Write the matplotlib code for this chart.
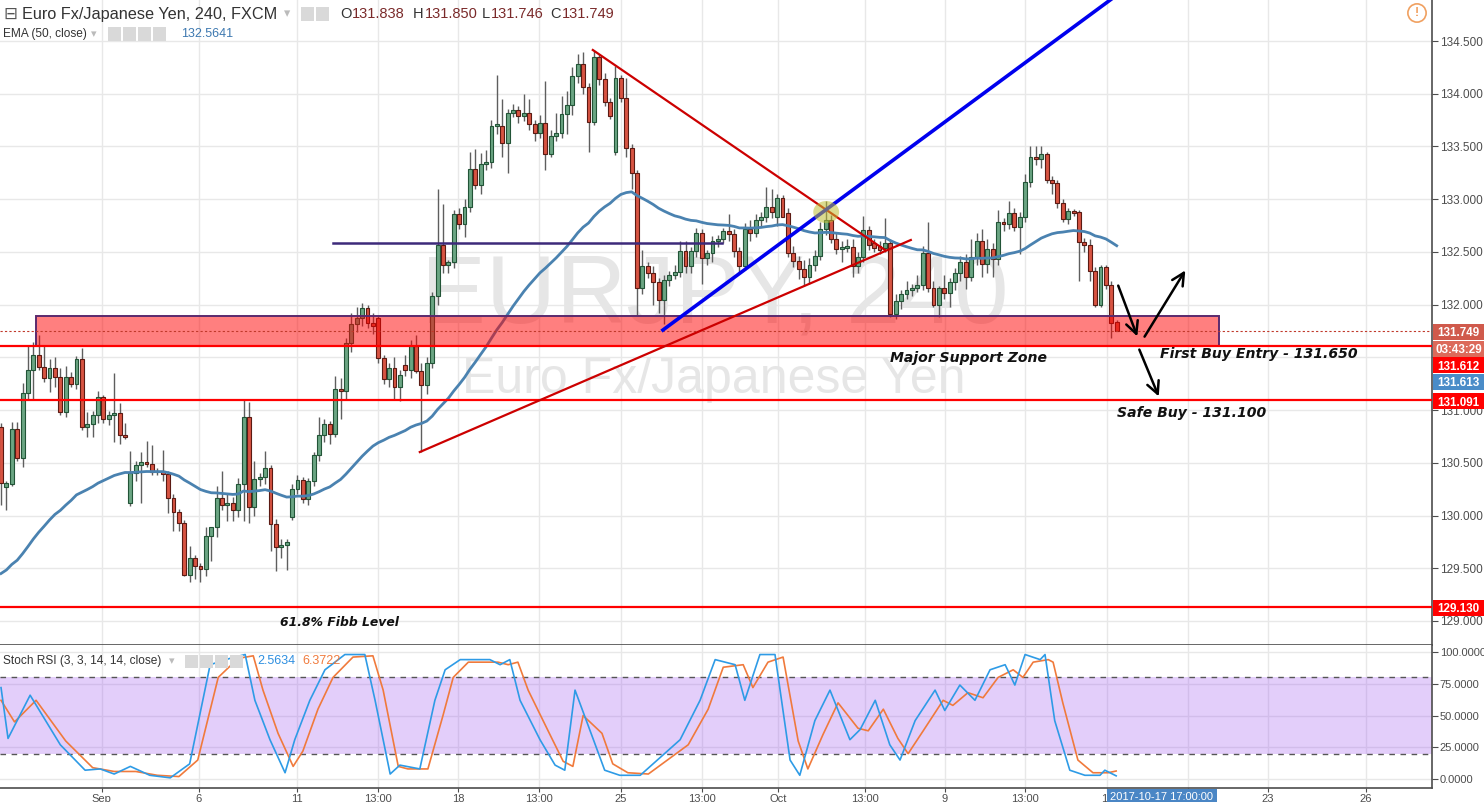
import numpy as np
import matplotlib
matplotlib.use("Agg")
import matplotlib.pyplot as plt
from matplotlib.patches import Rectangle, Ellipse

plt.rcParams['font.family'] = ['Liberation Sans', 'DejaVu Sans']

# ---------------- data ----------------
opens = [130.84,130.27,130.30,130.82,130.55,131.16,131.38,131.52,131.41,131.30,
         131.40,131.31,130.98,131.31,131.25,131.48,130.84,130.87,130.95,131.12,
         130.92,130.95,130.97,130.76,130.12,130.40,130.48,130.51,130.49,130.41,
         130.42,130.39,130.17,130.03,129.93,129.44,129.60,129.52,129.49,129.81,
         129.89,130.17,130.10,130.12,130.05,130.30,130.93,130.08,130.35,130.37,
         130.45,129.92,129.70,129.72,129.99,130.25,130.34,130.16,130.33,130.57,
         130.76,130.87,130.77,131.20,131.18,131.64,131.82,131.87,131.97,131.83,
         131.87,131.49,131.29,131.40,131.22,131.43,131.38,131.61,131.37,131.24,
         131.45,132.08,132.57,132.38,132.40,132.86,132.76,132.93,133.29,133.13,
         133.33,133.35,133.69,133.69,133.53,133.82,133.85,133.79,133.82,133.71,
         133.63,133.72,133.43,133.60,133.63,133.81,133.89,134.17,134.28,134.06,
         133.73,134.35,134.14,133.92,133.45,134.15,133.96,133.49,133.25,132.16,
         132.37,132.30,132.21,132.04,132.23,132.28,132.31,132.51,132.37,132.51,
         132.68,132.44,132.49,132.60,132.62,132.70,132.67,132.51,132.37,132.72,
         132.68,132.80,132.83,132.93,132.83,133.01,132.87,132.49,132.41,132.34,
         132.26,132.38,132.46,132.72,132.80,132.62,132.53,132.54,132.55,132.37,
         132.45,132.71,132.58,132.56,132.54,132.58,131.91,132.03,132.10,132.14,
         132.16,132.19,132.49,132.16,132.00,132.16,132.11,132.21,132.30,132.40,
         132.26,132.45,132.60,132.39,132.53,132.43,132.78,132.76,132.87,132.74,
         132.83,133.16,133.40,133.38,133.43,133.18,133.15,132.96,132.81,132.89,
         132.88,132.59,132.57,132.32,132.00,132.36,132.19,131.838]
highs = [130.88,130.33,130.89,130.89,131.26,131.62,131.65,131.71,131.62,131.48,
         131.50,131.40,131.42,131.36,131.51,131.59,130.98,130.99,131.18,131.14,
         130.99,131.35,131.07,130.88,130.61,130.52,130.60,130.71,130.67,130.45,
         130.62,130.42,130.20,130.06,129.96,129.71,129.63,129.55,129.89,129.89,
         130.28,130.42,130.20,130.18,130.36,131.10,131.08,130.52,130.40,130.61,
         130.48,129.97,129.78,129.78,130.30,130.38,130.37,130.36,130.60,130.93,
         130.92,130.90,131.32,131.30,131.68,131.92,131.98,132.02,132.00,131.92,
         131.90,131.52,131.45,131.50,131.38,131.52,131.66,131.71,131.45,131.50,
         132.12,133.10,132.95,132.42,132.90,132.92,133.00,133.45,133.48,133.44,
         133.47,133.75,134.18,133.95,133.86,133.90,133.88,134.00,133.95,133.75,
         133.80,134.12,133.66,133.82,133.98,134.03,134.25,134.38,134.40,134.10,
         134.41,134.38,134.20,133.96,134.26,134.18,134.15,133.52,133.28,132.52,
         132.40,132.37,132.25,132.28,132.32,132.38,132.60,132.60,132.55,132.73,
         132.72,132.52,132.65,132.66,132.73,132.86,132.72,132.55,132.77,132.80,
         132.86,132.88,133.12,133.10,133.05,133.04,132.92,132.56,132.46,132.42,
         132.44,132.52,132.78,132.98,132.85,132.68,132.60,132.62,132.62,132.50,
         132.84,132.75,132.62,132.60,132.82,132.62,132.10,132.14,132.22,132.20,
         132.28,132.56,132.78,132.22,132.18,132.28,132.25,132.35,132.46,132.48,
         132.62,132.68,132.72,132.62,132.58,132.90,132.82,132.98,132.92,132.88,
         133.24,133.50,133.50,133.50,133.45,133.22,133.18,133.00,132.92,132.91,
         132.90,132.63,132.62,132.36,132.38,132.38,132.22,131.850]
lows = [130.10,130.05,130.28,130.52,130.46,131.10,131.10,131.38,131.27,131.17,
        131.22,130.95,130.93,131.22,131.20,130.81,130.74,130.74,130.88,130.88,
        130.86,130.70,130.68,130.73,130.09,130.33,130.12,130.46,130.38,130.38,
        130.33,130.02,129.85,129.85,129.43,129.37,129.40,129.37,129.43,129.57,
        129.80,130.05,129.95,129.95,129.99,129.95,129.93,130.00,130.28,130.30,
        129.66,129.47,129.60,129.48,129.96,130.20,130.12,130.10,130.28,130.52,
        130.70,130.68,130.74,130.92,131.10,131.55,131.74,131.80,131.78,131.72,
        131.45,131.25,131.22,131.10,131.09,131.32,131.30,131.35,130.60,131.15,
        131.40,132.00,132.30,132.30,132.35,132.72,132.64,132.88,133.10,133.05,
        133.28,133.30,133.62,133.40,133.25,133.78,133.72,133.74,133.66,133.55,
        133.58,133.28,133.40,133.55,133.58,133.62,133.80,134.10,134.00,133.45,
        133.70,134.08,133.88,133.76,133.42,133.92,133.40,133.10,131.90,132.10,
        132.25,132.00,131.92,131.82,132.18,132.24,132.26,132.30,132.30,132.45,
        132.20,132.38,132.40,132.55,132.58,132.60,132.45,132.30,132.33,132.60,
        132.64,132.74,132.78,132.82,132.75,132.83,132.45,132.36,132.24,132.18,
        132.20,132.32,132.42,132.66,132.58,132.48,132.40,132.50,132.26,132.30,
        132.40,132.52,132.50,132.48,132.50,131.88,131.86,131.96,132.05,132.08,
        132.12,132.14,132.12,131.98,131.88,132.05,131.98,132.14,132.22,132.15,
        132.22,132.38,132.26,132.30,132.26,132.38,132.70,132.72,132.70,132.48,
        132.78,133.12,133.32,133.30,133.15,133.05,132.92,132.78,132.76,132.84,
        132.22,132.50,132.22,131.98,131.98,132.15,131.68,131.746]
closes = [130.31,130.31,130.82,130.55,131.16,131.38,131.52,131.41,131.30,131.40,
          131.31,130.98,131.31,131.25,131.48,130.84,130.87,130.95,131.12,130.92,
          130.95,130.97,130.76,130.74,130.40,130.48,130.51,130.49,130.41,130.42,
          130.39,130.17,130.03,129.93,129.44,129.60,129.52,129.49,129.81,129.89,
          130.17,130.10,130.12,130.05,130.30,130.93,130.08,130.35,130.37,130.45,
          129.92,129.70,129.72,129.75,130.25,130.34,130.16,130.33,130.57,130.76,
          130.87,130.77,131.20,131.18,131.64,131.82,131.87,131.97,131.83,131.80,
          131.49,131.29,131.40,131.22,131.33,131.38,131.61,131.37,131.24,131.45,
          132.08,132.57,132.38,132.40,132.86,132.76,132.93,133.29,133.13,133.33,
          133.35,133.69,133.71,133.53,133.82,133.85,133.79,133.82,133.71,133.63,
          133.72,133.43,133.60,133.63,133.81,133.89,134.17,134.28,134.06,133.73,
          134.35,134.14,133.92,133.79,134.15,133.96,133.49,133.25,132.16,132.37,
          132.30,132.21,132.04,132.23,132.28,132.31,132.51,132.37,132.51,132.68,
          132.44,132.49,132.60,132.62,132.70,132.67,132.51,132.37,132.72,132.68,
          132.80,132.83,132.93,132.88,133.01,132.83,132.49,132.41,132.34,132.26,
          132.38,132.46,132.72,132.80,132.62,132.53,132.54,132.56,132.37,132.45,
          132.71,132.57,132.54,132.52,132.58,131.91,132.03,132.10,132.14,132.16,
          132.19,132.49,132.16,132.00,132.16,132.11,132.21,132.30,132.40,132.26,
          132.45,132.60,132.39,132.53,132.43,132.78,132.76,132.87,132.74,132.83,
          133.16,133.40,133.38,133.43,133.18,133.15,132.96,132.81,132.89,132.87,
          132.59,132.57,132.32,132.00,132.36,132.19,131.83,131.749]
ema_start = 129.45   # EMA(50) value at the left edge of the chart

time_ticks = [18.7, 36.7, 54.9, 69.9, 84.8, 99.8, 115.0, 130.1, 144.2, 160.3,
              175.1, 190.0, 205.2, 220.2, 235.1, 253.2]
time_labels = ['Sep', '6', '11', '13:00', '18', '13:00', '25', '13:00', 'Oct',
               '13:00', '9', '13:00', '16', '13:00', '23', '26']
price_ticks = [129.0, 129.5, 130.0, 130.5, 131.0, 131.5, 132.0, 132.5, 133.0,
               133.5, 134.0, 134.5]
stoch_ticks = [0, 25, 50, 75, 100]

k_x = [0,1.3,5.4,11,15.6,18.4,21,24,27.6,31.4,35,38.8,42.5,45.3,47.1,49.9,52.7,
       54.5,57.3,60.1,63.8,67.5,69.4,72.2,74,77.7,80.5,82.4,85.2,90.7,92.6,94.4,
       96.3,100,102.8,104.6,106.5,110,112,114.8,118.6,126,129.7,132.5,136.2,138,
       140.8,143.6,146.4,148.2,151,153.8,157.5,159.4,162.2,164.9,166.8,169.6,
       173.3,175.1,177.9,180.7,183.5,186.3,188.1,190,192.8,193.7,195.5,198.3,
       201.1,203.9,204.8,206.9]
k_v = [72,32,66,27,7,8,4,10,3,1,12,90,95,98,62,31,5,31,62,86,98,98,62,4,11,8,
       62,86,94,94,90,94,62,31,11,7,70,30,7,3,3,31,62,94,90,62,98,98,15,3,46,
       70,31,39,62,27,15,46,70,54,74,62,86,90,74,98,94,98,46,7,3,3,7,2.56]
d_x = [0,2.5,6.5,12,17,21,25,29,33,36.5,40.3,44,46.8,48.6,51.4,54.2,56,58.8,
       61.6,65.3,69,70.9,73.7,75.5,79.2,82,83.9,86.7,92.2,94.1,95.9,97.8,101.5,
       104.3,106.1,108,111.5,113.5,116.3,120.1,127.5,131.2,134,137.7,139.5,
       142.3,145.1,147.9,149.7,152.5,155.3,159,160.9,163.7,166.4,168.3,171.1,
       174.8,176.6,179.4,182.2,185,187.8,189.6,191.5,194.3,195.2,197,199.8,
       202.6,205.4,206.9]
d_v = [62,45,62,30,9,6,6,3,2,15,80,95,97,70,36,10,22,55,80,96,97,70,10,8,8,50,
       80,92,92,90,92,70,38,14,10,50,36,12,5,4,27,55,88,90,72,92,96,30,8,35,60,
       40,38,55,32,20,38,62,58,68,64,80,86,80,92,94,92,60,15,5,5,6.37]

# right-scale price tags: text, vertical pixel position, colour
tag_texts = ['131.749', '03:43:29', '131.612', '131.613', '131.091', '129.130']
tag_ypx = [332, 348.5, 365, 381.5, 401, 608]
tag_colors = ['#d05a4c', '#dc6a5a', '#ff0000', '#4a8cc8', '#ff0000', '#ff0000']

# ---------------- figure ----------------
W, H = 1484, 802
fig = plt.figure(figsize=(W / 100, H / 100), dpi=100)
fig.patch.set_facecolor('white')
AXR = 1432
ax = fig.add_axes([0, 1 - 645 / H, AXR / W, 645 / H])
ax2 = fig.add_axes([0, 1 - 788 / H, AXR / W, (788 - 645) / H])

o = np.array(opens); h = np.array(highs); l = np.array(lows); c = np.array(closes)
n = len(c)
xi = np.arange(n)
XMIN, XMAX = -0.19, 265.5
ax.set_xlim(XMIN, XMAX)
ax.set_ylim(128.772, 134.889)
ax2.set_xlim(XMIN, XMAX)
ax2.set_ylim(-7, 105.5)

grid_c = '#e8e8e8'
axis_c = '#4d4d4d'
for a in (ax, ax2):
    a.set_facecolor('white')
    a.set_xticks(time_ticks)
    a.grid(True, color=grid_c, lw=1, zorder=0)
    a.set_axisbelow(True)
    a.yaxis.tick_right()
    a.spines['left'].set_visible(False)
    a.spines['top'].set_visible(False)
    a.spines['right'].set_color(axis_c)
    a.spines['bottom'].set_color(axis_c)
    a.spines['right'].set_linewidth(1.2)
    a.spines['bottom'].set_linewidth(1.2)
    a.tick_params(axis='y', direction='out', length=4, color=axis_c,
                  labelsize=8.5, labelcolor='#4d4d4d', pad=2)

ax.set_yticks(price_ticks)
ax.set_yticklabels([f'{v:.3f}' for v in price_ticks])
ax.tick_params(axis='x', length=0, labelbottom=False)
ax2.set_yticks(stoch_ticks)
ax2.set_yticklabels([f'{v:.4f}' for v in stoch_ticks])
ax2.tick_params(axis='y', labelsize=8.0, pad=1.5)
ax2.set_xticklabels(time_labels)
ax2.tick_params(axis='x', direction='out', length=3, color=axis_c, labelsize=8,
                labelcolor='#4d4d4d', pad=1)

# watermark
ax.text(132.5, 131.835, 'EURJPY, 240', fontsize=70, color='#e6e6e6',
        ha='center', va='baseline', zorder=1)
ax.text(132.3, 131.162, 'Euro Fx/Japanese Yen', fontsize=36, color='#e6e6e6',
        ha='center', va='baseline', zorder=1)

# candles
up = c >= o
body_c = np.where(up, '#6ba583', '#d75442')
edge_c = np.where(up, '#225437', '#5b1a13')
ax.vlines(xi, l, h, color='#5e5e5e', lw=1, zorder=3)
ax.bar(xi, np.maximum(np.abs(c - o), 0.012), bottom=np.minimum(o, c), width=0.72,
       color=body_c, edgecolor=edge_c, linewidth=0.8, zorder=4)

# EMA 50
alpha = 2 / 51
ema = np.empty(n)
ema[0] = ema_start
for i in range(1, n):
    ema[i] = ema[i - 1] + alpha * (c[i] - ema[i - 1])
ax.plot(xi, ema, color='#4a82b0', lw=2, zorder=5)

# support zone and levels
ax.add_patch(Rectangle((6.5, 131.607), 226.0 - 6.5, 131.892 - 131.607,
                       facecolor=(1, 0, 0, 0.5), edgecolor='#5a2a6e', lw=1.4, zorder=6))
ax.axhline(131.749, color='#c0392b', lw=0.8, ls=(0, (2, 2)), zorder=7)
for lvl in (131.612, 131.091, 129.130):
    ax.axhline(lvl, color='#ff0000', lw=1.6, zorder=7)
ax.plot([61.6, 133.8], [132.584, 132.584], color='#3d2a7a', lw=1.8, zorder=7)

# triangle & trend lines
ax.plot([109.8, 164.0], [134.415, 132.518], color='#cc0000', lw=1.6, zorder=8)
ax.plot([77.7, 168.8], [130.602, 132.613], color='#cc0000', lw=1.6, zorder=8)
ax.plot([122.8, 210.0], [131.759, 135.048], color='#0000ee', lw=2.6, zorder=8)
ax.add_patch(Ellipse((153.1, 132.878), 4.8, 0.209, facecolor=(0.75, 0.75, 0.2, 0.55),
                     edgecolor='none', zorder=9))

# arrows
arrow_kw = dict(arrowstyle='->', color='black', lw=1.8, mutation_scale=22)
for (x0, y0, x1, y1) in [(207.1, 132.205, 211.0, 131.674),
                         (211.9, 131.674, 220.0, 132.347),
                         (211.0, 131.598, 215.0, 131.105)]:
    ax.annotate('', xy=(x1, y1), xytext=(x0, y0), arrowprops=arrow_kw, zorder=9)

# annotations
tkw = dict(family='DejaVu Sans', fontweight='bold', fontstyle='italic',
           color='#111111', va='center', ha='left', zorder=10)
ax.text(165.0, 131.494, 'Major Support Zone', fontsize=10.1, **tkw)
ax.text(215.0, 131.532, 'First Buy Entry - 131.650', fontsize=10.1, **tkw)
ax.text(207.1, 130.972, 'Safe Buy - 131.100', fontsize=10.1, **tkw)
ax.text(51.8, 128.990, '61.8% Fibb Level', fontsize=8.9, **tkw)

# stochastic RSI panel
ax2.axhspan(20, 80, facecolor=(0.61, 0.31, 0.94, 0.28), edgecolor='none', zorder=1)
for lv in (20, 80):
    ax2.axhline(lv, color='#555555', lw=1, ls=(0, (4, 4)), zorder=2)
ax2.plot(d_x, d_v, color='#f07a3c', lw=1.2, zorder=3)
ax2.plot(k_x, k_v, color='#2e9be6', lw=1.2, zorder=4)


# ---------------- overlay texts ----------------
def fx(x):
    return x / W


def fy(y):
    return 1 - y / H


# price tags on the right scale
for txt, ypx, col in zip(tag_texts, tag_ypx, tag_colors):
    fig.add_artist(Rectangle((fx(1433), fy(ypx + 8)), 51 / W, 16 / H,
                             transform=fig.transFigure, facecolor=col,
                             edgecolor='none', zorder=10))
    fig.text(fx(1458.5), fy(ypx), txt, ha='center', va='center_baseline', fontsize=8.4,
             fontweight='bold', color='white', zorder=11)

# time box at bottom
fig.add_artist(Rectangle((fx(1107), fy(803)), 110 / W, 14 / H, transform=fig.transFigure,
                         facecolor='#4a86c5', edgecolor='none', zorder=10))
fig.text(fx(1162), fy(796.5), '2017-10-17 17:00:00', ha='center', va='center_baseline',
         fontsize=8, color='white', zorder=11)


def icons(x0, y, count):
    for k in range(count):
        fig.add_artist(Rectangle((fx(x0 + k * 15), fy(y + 6.5)), 13 / W, 13 / H,
                                 transform=fig.transFigure, facecolor='#d9d9d9',
                                 edgecolor='none', zorder=10))


fig.text(fx(3), fy(14), '\u229f', fontsize=12, color='#555555', va='center', zorder=11)
fig.text(fx(22), fy(14), 'Euro Fx/Japanese Yen, 240, FXCM', fontsize=11.7,
         color='#333333', va='center', zorder=11)
fig.text(fx(284), fy(14), '\u25be', fontsize=9, color='#bbbbbb', va='center', zorder=11)
icons(301, 14, 2)
for lab, lx, val in [('O', 340, '131.838'), ('H', 413, '131.850'),
                     ('L', 482, '131.746'), ('C', 550, '131.749')]:
    fig.text(fx(lx), fy(14), lab, fontsize=10.5, color='#333333', va='center', zorder=11)
    fig.text(fx(lx + (9 if lab == 'L' else 11.5)), fy(14), val, fontsize=10.5,
             color='#7a2a2a', va='center', zorder=11)

fig.text(fx(3), fy(34), 'EMA (50, close)', fontsize=8.6, color='#333333', va='center', zorder=11)
fig.text(fx(91), fy(34), '\u25be', fontsize=8, color='#bbbbbb', va='center', zorder=11)
icons(108, 34, 4)
fig.text(fx(181), fy(34), '132.5641', fontsize=9, color='#3d78b0', va='center', zorder=11)

fig.text(fx(3), fy(661), 'Stoch RSI (3, 3, 14, 14, close)', fontsize=8.6, color='#333333',
         va='center', zorder=11)
fig.text(fx(169), fy(661), '\u25be', fontsize=8, color='#bbbbbb', va='center', zorder=11)
icons(185, 661, 4)
fig.text(fx(257), fy(661), '2.5634', fontsize=9, color='#2e8fe0', va='center', zorder=11)
fig.text(fx(302), fy(661), '6.3722', fontsize=9, color='#f07a3c', va='center', zorder=11)

fig.text(fx(1417), fy(13), '!', fontsize=9, color='#f0a060', ha='center', va='center',
         fontweight='bold', zorder=11,
         bbox=dict(boxstyle='circle,pad=0.25', fc='white', ec='#f0a060', lw=1.2))

fig.savefig('out.png', dpi=100, facecolor='white')
